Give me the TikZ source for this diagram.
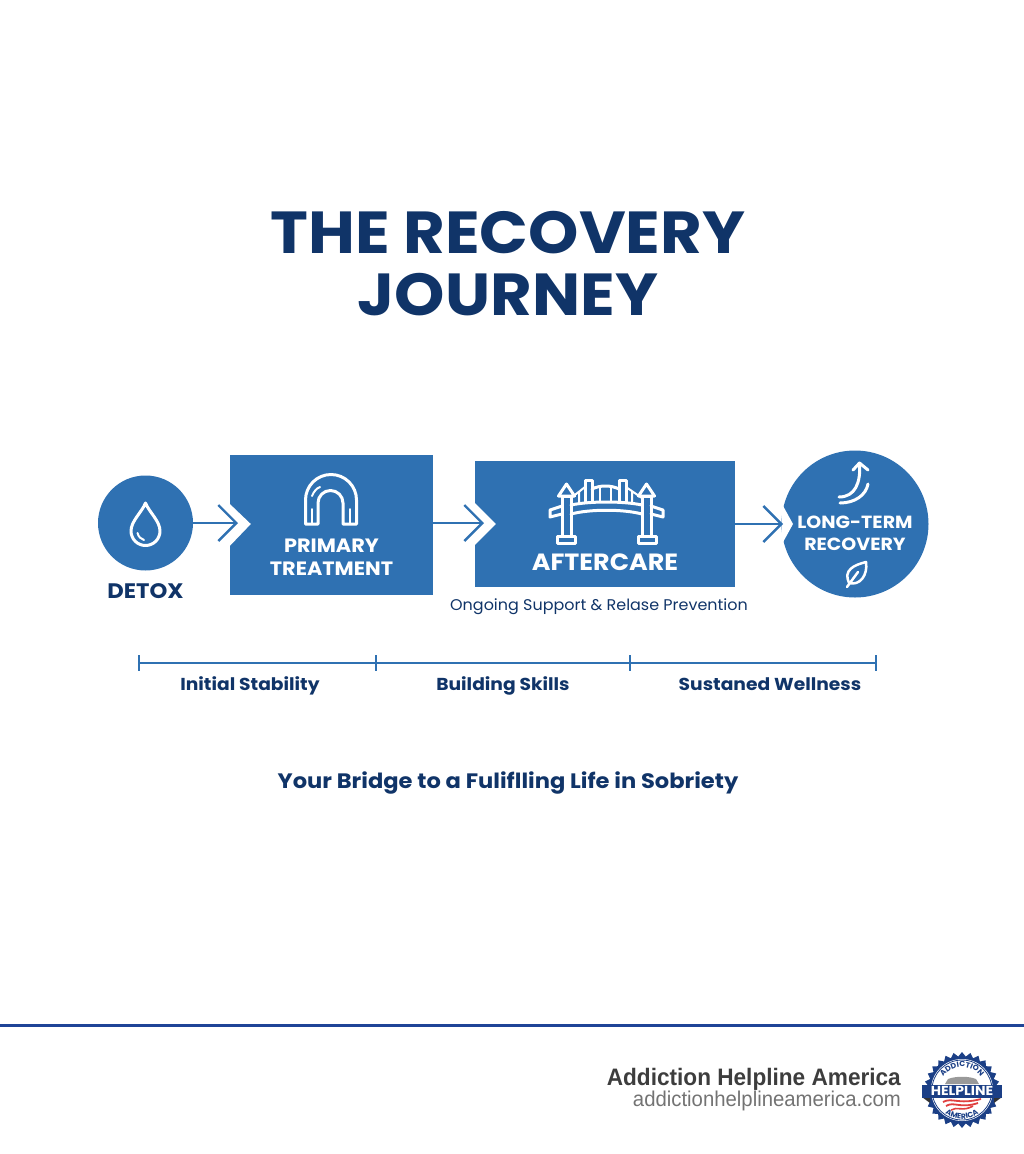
\documentclass[tikz,border=0pt]{standalone}
\usepackage{fontspec}
\setmainfont{Poppins}[FakeStretch=1.08]
\newfontfamily\notefont{Poppins}[FakeStretch=1.03]
\newfontfamily\footerfont{Liberation Sans}[FakeStretch=0.95]
\usetikzlibrary{arrows.meta,positioning,shapes.geometric,decorations.text}
\definecolor{stageblue}{HTML}{2F71B2}
\definecolor{navy}{HTML}{103468}
\definecolor{rulecolor}{HTML}{1F4497}
\definecolor{sealnavy}{HTML}{1B3F86}
\definecolor{sealred}{HTML}{E0403F}
\tikzset{
  stagebox/.style={rectangle,fill=stageblue,inner sep=0pt},
  stagedisc/.style={circle,fill=stageblue,inner sep=0pt},
  stagetext/.style={font=\fontsize{19.3}{22.5}\selectfont\bfseries,text=white,align=center,inner sep=0pt},
  spantext/.style={font=\fontsize{17.3}{20}\selectfont\bfseries,text=navy,inner sep=0pt,anchor=base},
  icon/.style={draw=white,line width=3pt,line join=round,line cap=round},
  thinicon/.style={icon,line width=2pt},
  flow/.style={draw=stageblue,line width=2.4pt,-{Straight Barb[length=18pt,width=36pt,line width=2.4pt]}},
  span/.style={draw=stageblue,line width=2.2pt},
  notch/.style={fill=white},
}
\begin{document}
\begin{tikzpicture}[x=1pt,y=-1pt,node distance=100pt,on grid]
  \useasboundingbox (0,0) rectangle (1024,1154);
  \node[font=\fontsize{59.3}{62}\selectfont\bfseries,text=navy,align=center,inner sep=0pt] (title) at (508,264) {THE RECOVERY\\JOURNEY};

  % stages
  \node[stagedisc,minimum size=95pt] (detox) at (145.5,523) {};
  \node[stagebox,minimum width=203pt,minimum height=140pt] (primary) [right=186pt of detox,yshift=-2pt] {};
  \node[stagebox,minimum width=260pt,minimum height=126pt] (aftercare) [right=273.5pt of primary,yshift=1pt] {};
  \node[stagedisc,minimum size=147pt] (longterm) [right=250pt of aftercare] {};

  \fill[notch] (primary.west) +(-1,-22) -- +(21,-1) -- +(-1,22) -- cycle;
  \fill[notch] (aftercare.west) +(-1,-22) -- +(21,0) -- +(-1,22) -- cycle;
  \fill[notch] (782,504) -- (793,524) -- (782,544) -- cycle;

  \coordinate (tip1) at (238,523);
  \coordinate (tip2) at (484,523);
  \coordinate (tip3) at (783,524);
  \draw[flow] (detox) -- (tip1);
  \draw[flow] (primary.east |- tip2) -- (tip2);
  \draw[flow] (aftercare.east |- tip3) -- (tip3);

  \node[font=\fontsize{21}{21}\selectfont\bfseries,text=navy,inner sep=0pt] (detoxlabel) [below=68pt of detox] {DETOX};
  \node[stagetext] (primarylabel) [below=32pt of primary] {PRIMARY\\TREATMENT};
  \node[stagetext,font=\fontsize{23.5}{24}\selectfont\bfseries] (aftercarelabel) [below=38pt of aftercare] {AFTERCARE};
  \node[stagetext,font=\fontsize{17.6}{22}\selectfont\bfseries] (longtermlabel) [below=9pt of longterm] {LONG-TERM\\RECOVERY};
  \node[font=\notefont\fontsize{15.5}{18}\selectfont,text=navy,inner sep=0pt] (aftercarenote) at (599,606.5) {Ongoing Support \& Relase Prevention};

  % drop
  \draw[icon] (145.5,503) .. controls (142,512) and (131,521) .. (131,531) arc[start angle=180,end angle=0,radius=14.5] .. controls (160,521) and (149,512) .. (145.5,503) -- cycle;
  \draw[thinicon] (137.5,533) .. controls (138.5,537) and (141,539) .. (144,540);

  % arch
  \draw[icon] (305.5,524) -- (305.5,500) arc[start angle=180,end angle=360,radius=25.5] -- (356.5,524) -- (343,524) -- (343,503) arc[start angle=360,end angle=180,radius=12.5] -- (318,524) -- cycle;
  \draw[thinicon] (312,524) -- (312,509) (350,524) -- (350,509);
  \draw[thinicon] (312,496) .. controls (314,491) and (317,488) .. (320,487);

  % bridge
  \draw[icon] (562,535) -- (562,496) -- (571,496) -- (571,535);
  \draw[icon] (642,535) -- (642,496) -- (651,496) -- (651,535);
  \draw[icon] (558.5,496) -- (566.5,484) -- (574.5,496) -- cycle;
  \draw[icon] (638.5,496) -- (646.5,484) -- (654.5,496) -- cycle;
  \draw[icon] (557,536) rectangle (575,543);
  \draw[icon] (638,536) rectangle (656,543);
  \draw[icon] (571,505) .. controls (590,501) and (623,501) .. (642,505);
  \draw[icon] (571,514) .. controls (590,509) and (623,509) .. (642,514);
  \draw[icon] (562,506) -- (550,510) -- (550,517) -- (562,514);
  \draw[icon] (651,506) -- (663,510) -- (663,517) -- (651,514);
  \draw[icon] (585,502) -- (585,480) -- (592,480) -- (592,502);
  \draw[icon] (619,502) -- (619,480) -- (626,480) -- (626,502);
  \draw[icon] (592,489) .. controls (600,485) and (611,485) .. (619,489);
  \draw[thinicon] (600,487) -- (600,501) (611,487) -- (611,501);
  \draw[thinicon] (571,498) -- (585,487) (626,487) -- (642,498) (579,492) -- (579,503) (632,491) -- (632,503);

  % curved arrow and leaf
  \draw[icon] (853,470) -- (859.5,463) -- (868,470);
  \draw[icon] (859.5,463) .. controls (861,483) and (855,497) .. (839,497);
  \draw[icon] (868,484) .. controls (866,495) and (855,503) .. (840,503);
  \draw[icon,line width=2.5pt] (849,583) .. controls (843,570) and (854,565) .. (866,562) .. controls (868,575) and (860,586) .. (849,583) -- cycle;
  \draw[icon,line width=2.5pt] (847,587) -- (858,572);

  % phases
  \coordinate (t0) at (139,663);
  \coordinate (t1) at (376,663);
  \coordinate (t2) at (630,663);
  \coordinate (t3) at (876,663);
  \draw[span] (t0) -- (t1) -- (t2) -- (t3);
  \foreach \t in {t0,t1,t2,t3}
    \draw[span,line width=1.5pt] (\t) +(0,-8) -- +(0,8);
  \node[spantext] (phase1) at (250,690.5) {Initial Stability};
  \node[spantext] (phase2) at (503,690.5) {Building Skills};
  \node[spantext] (phase3) at (770,690.5) {Sustaned Wellness};

  \node[font=\fontsize{20.9}{24}\selectfont\bfseries,text=navy,inner sep=0pt,anchor=base] (tagline) at (508,788.5) {Your Bridge to a Fuliflling Life in Sobriety};

  % footer
  \draw[rulecolor,line width=3pt] (0,1025.5) -- (1024,1025.5);
  \node[anchor=east,font=\footerfont\fontsize{23.8}{24}\selectfont\bfseries,text=black!76,inner sep=0pt] (brand) at (901,1079) {Addiction Helpline America};
  \node[anchor=east,font=\footerfont\fontsize{21.4}{21}\selectfont,text=black!55,inner sep=0pt] (site) at (901,1101) {addictionhelplineamerica.com};

  % seal
  \node[star,star points=28,star point ratio=1.13,fill=sealnavy,minimum size=76pt,inner sep=0pt] (seal) at (962,1090) {};
  \fill[white] (seal.center) circle[radius=31];
  \draw[sealnavy,line width=.8pt] (seal.center) circle[radius=30];
  \fill[black!40] (945,1084) -- (948,1079) .. controls (955,1076) and (969,1076) .. (976,1079) -- (979,1084) -- cycle;
  \draw[sealred,line width=1.8pt] (943,1102) .. controls (952,1097) and (958,1105) .. (981,1099);
  \draw[sealred,line width=1.8pt] (946,1106) .. controls (954,1101) and (960,1109) .. (978,1103);
  \draw[sealred,line width=1.6pt] (951,1110) .. controls (957,1106) and (963,1112) .. (973,1106);
  \path[decorate,decoration={text along path,text align=center,text={|\notefont\fontsize{7.5}{8}\selectfont\bfseries\color{sealnavy}|ADDICTION}}] (seal.center) ++(190:23) arc[start angle=190,end angle=350,radius=23];
  \path[decorate,decoration={text along path,text align=center,text={|\notefont\fontsize{7.5}{8}\selectfont\bfseries\color{sealnavy}|AMERICA}}] (seal.center) ++(150:29) arc[start angle=150,end angle=30,radius=29];
  \fill[black!80] (922,1097) -- (930,1097) -- (930,1103) -- cycle;
  \fill[black!80] (1002,1097) -- (994,1097) -- (994,1103) -- cycle;
  \node[fill=sealnavy,text=white,font=\fontsize{13}{14}\selectfont\bfseries,minimum width=80pt,minimum height=13pt,inner sep=0pt] (sealband) at (962,1091) {HELPLINE};
\end{tikzpicture}
\end{document}
